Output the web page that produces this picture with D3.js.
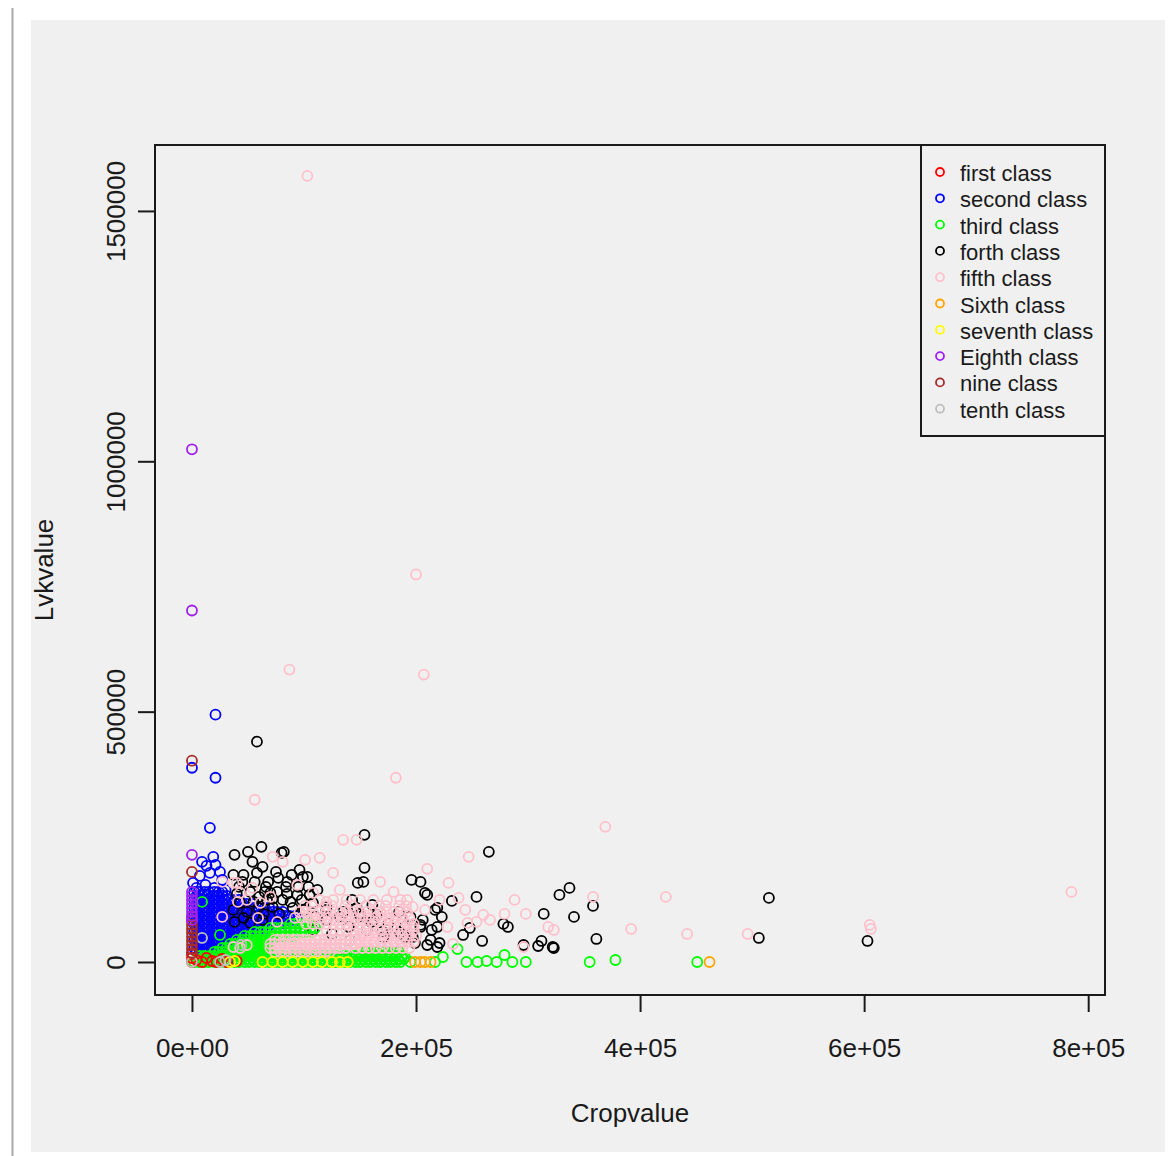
<!DOCTYPE html>
<html>
<head>
<meta charset="utf-8">
<script src="https://cdn.jsdelivr.net/npm/d3@7"></script>
<style>
body { margin: 0; background: #fff; }
text { font-family: "Liberation Sans", Arial, sans-serif; fill: #1a1a1a; }
</style>
</head>
<body>
<script>
// all point values below are in thousands: [Cropvalue, Lvkvalue]
var K = 1000;

var xTicks = [0, 200000, 400000, 600000, 800000];
var xTickLabels = ["0e+00", "2e+05", "4e+05", "6e+05", "8e+05"];
var yTicks = [0, 500000, 1000000, 1500000];
var yTickLabels = ["0", "500000", "1000000", "1500000"];
var xLimits = [-33000, 815000];
var yLimits = [-65900, 1631700];

var classNames = ["first class", "second class", "third class", "forth class", "fifth class",
                  "Sixth class", "seventh class", "Eighth class", "nine class", "tenth class"];
var classColors = ["#ff0000", "#0000ff", "#00ff00", "#000000", "#ffc0cb",
                   "#ffa500", "#ffff00", "#a020f0", "#a52a2a", "#bebebe"];

// first class (red)
var firstClass = [[0,0],[0,8],[0,16],[4,4],[9,0],[13,8],[18,2],[22,0],[27,6],[31,0],[40,2]];

// second class (blue) - single points and dense rows [y, [x...]]
var secondClass = [[0,388],[21,494],[21,368],[16,268],[9,200],[19,210],[13,192],[25,180],[16,178],
  [21,194],[7,172],[1,158],[12,154],[27,164],[20,148],[30,144],[4,148]];
var secondClassRows = [
  [140, [2,6,11,15,20,24,27]],
  [132, [4,9,13,18,22,27,31]],
  [124, [2,6,11,15,20,24,29,33,38,42]],
  [116, [4,9,13,18,22,27,31,36,40,45,49,54]],
  [108, [2,6,11,15,20,24,29,33,38,42,47,51,56,60,65,69]],
  [100, [4,9,13,18,22,27,31,36,40,45,49,54,58,63,67,72,76,81]],
  [92,  [2,6,11,15,20,24,29,33,38,42,47,51,56,60,65,69,74,78,83,87,92]],
  [84,  [4,9,13,18,22,27,31,36,40,45,49,54,58,63,67,72,76,81,85,90,94]],
  [76,  [2,6,11,15,20,24,29,33,38,42,47,51,56,60,65,69,74,78,83]],
  [68,  [4,9,13,18,22,27,31,36,40,45,49,54,58,63,67]],
  [60,  [2,6,11,15,20,24,29,33,38,42,47,51,56]],
  [52,  [4,9,13,18,22,27,31,36,40,45]],
  [44,  [2,6,11,15,20,24,29,33,38]],
  [36,  [4,9,13,18,22,27,31]],
  [28,  [2,6,11,15,20,24]],
  [20,  [4,9,13,18]]
];

// third class (green)
var thirdClass = [[9,120],[25,54],[36,28],[190,10],[195,0],[217,0],[224,10],[237,26],[245,0],[255,0],
  [263,2],[272,0],[279,14],[286,0],[298,0],[355,0],[378,4],[451,0]];
var thirdClassRows = [
  [76, [88,92,97,101,105]],
  [68, [70,74,79,83,88,92,97,101,106,110]],
  [60, [56,61,65,70,74,79,83,88,92,97,101,106]],
  [52, [47,52,56,61,65,70,74,79,83,88,92]],
  [44, [40,45,49,54,58,63,67,72]],
  [36, [34,38,43,47,52,56,61,65,70]],
  [28, [27,31,36,40,45,49,54,58,63,67,70]],
  [20, [20,24,29,33,38,42,47,51,56,60,65,69,150,155,160,165,170,175,180,185]],
  [12, [7,11,16,20,25,29,34,38,43,47,52,56,61,65,70,74,79,83,88,92,97,101,106,110,115,119,124,128,
        133,137,142,146,151,155,160,164,169,173,178,182,187]],
  [6,  [4,9,13,18,22,27,31,36,40,45,49,54,58,63,67,72,76,81,85,90,94,99,103,108,112,117,121,126,
        130,135,139,144,148,153,157,162,166,171,175,180,184,189]],
  [0,  [2,6,11,15,20,24,29,33,38,42,47,51,56,60,65,69,74,78,83,87,92,96,101,105,110,114,119,123,
        128,132,137,141,146,150,155,159,164,168,173,177,182,186]]
];

// forth class (black)
var forthClass = [[58,440],[154,254],[265,220],[337,148],[328,134],[358,112],[341,90],[323,28],[361,46],
  [515,128],[506,48],[603,42],[38,214],[50,220],[62,230],[54,200],[80,218],[82,220],[37,174],[46,174],
  [58,178],[68,160],[77,168],[89,174],[99,170],[104,150],[112,144],[154,188],[148,158],[153,160],
  [196,164],[204,160],[208,138],[217,104],[143,124],[147,108],[150,90],[70,138],[67,124],[43,118],
  [37,104],[49,100],[59,108],[72,110],[38,80],[63,84],[81,124],[94,134],[90,108],[108,118],[120,104],
  [132,90],[162,84],[174,64],[186,58],[197,50],[206,84],[210,34],[221,38],[219,70],[161,114],[165,94],
  [156,64],[171,50],[195,90],[204,70],[213,44],[219,30],[141,44],[120,84],[108,64],[96,184],[103,170],
  [210,134],[254,130],[232,122],[219,108],[223,90],[314,96],[278,76],[282,70],[204,74],[214,64],
  [190,50],[199,38],[242,54],[248,68],[259,42],[296,34],[309,32],[312,42],[322,30],
  [42,150],[52,140],[60,130],[66,150],[76,140],[84,150],[40,136],[56,160],[72,126],[88,120],[78,96],
  [64,96],[46,88],[52,78],[120,110],[135,100],[150,96],[160,80],[175,76],[185,100],[140,70],[125,56],
  [170,60],[190,70],[110,90],[100,104],[45,160],[63,190],[75,180],[85,160],[95,150],[55,120],[65,140],
  [85,136],[98,124],[105,134]];

// fifth class (pink)
var fifthClass = [[103,1570],[200,774],[207,574],[87,584],[56,324],[182,368],[369,270],[785,140],
  [605,74],[606,66],[496,56],[442,56],[423,130],[392,66],[358,130],[323,64],[247,210],[210,186],
  [229,158],[192,124],[221,124],[238,128],[288,124],[208,104],[244,104],[260,94],[266,84],[279,96],
  [298,96],[254,80],[318,70],[233,36],[296,30],[197,70],[228,70],[246,78],[135,244],[147,244],
  [72,210],[81,200],[101,204],[114,208],[126,178],[168,160],[27,160],[37,158],[43,138],[54,148],
  [41,120],[49,124],[59,88],[76,80],[27,90],[37,30],[43,28],[94,154],[108,138],[132,144],[120,120],
  [180,140],[197,110],[61,118],[70,130],[49,34],[40,158]];
var fifthClassRows = [
  [124, [114,126,138,150,162,174,186]],
  [112, [101,107,119,125,137,143,155,167,173,185,191]],
  [100, [96,102,108,114,120,126,132,138,144,150,156,162,168,174,180,186,192]],
  [88,  [92,98,104,110,116,122,128,134,140,146,152,158,164,170,176,182,188,194]],
  [76,  [102,108,114,120,126,132,138,144,150,156,162,168,174,180,186,192,198]],
  [64,  [120,126,132,138,144,150,156,162,168,174,180,186,192,198]],
  [52,  [146,152,158,164,170,176,182,188,194,200]],
  [44,  [74,78,83,87,92,96,101,105,110,114,119,123,128,132,137,141,146]],
  [40,  [150,156,162,168,174,180,186,192,198]],
  [36,  [70,74,79,83,88,92,97,101,106,110,115,119,124,128,133,137,142,146]],
  [28,  [70,74,78,83,87,92,96,101,105,110,114,119,123,128,132,137,146,152,158,164,170,176,182,188,194]],
  [20,  [74,79,83,88,92,97,101,106,110,115,119,123]]
];

var sixthClass = [[199,0],[204,0],[208,0],[213,0],[462,0]];
var seventhClass = [[34,0],[38,2],[63,0],[72,0],[81,0],[90,0],[99,0],[108,0],[116,0],[125,0],[132,0],[139,0]];
var eighthClass = [[0,1024],[0,702],[0,214],[0,140],[0,132],[0,124],[0,116],[0,108],[0,100],[0,92],[0,84]];
var nineClass = [[0,402],[0,180],[0,90],[0,82],[0,74],[0,66],[0,58],[0,50],[0,42],[0,34],[0,26],[0,18]];
var tenthClass = [[0,0],[25,0],[9,48],[30,4],[44,34]];

// turn [y, [x...]] rows into points
function fromRows(rows) {
  return rows.flatMap(function(r) { return r[1].map(function(x) { return [x, r[0]]; }); });
}

var classPoints = [
  firstClass,
  secondClass.concat(fromRows(secondClassRows)),
  thirdClass.concat(fromRows(thirdClassRows)),
  forthClass,
  fifthClass.concat(fromRows(fifthClassRows)),
  sixthClass, seventhClass, eighthClass, nineClass, tenthClass
];
// order the classes are plotted in
var drawOrder = [1, 3, 2, 4, 0, 6, 5, 9, 8, 7];

var width = 1176, height = 1156;
var box = {left: 155, right: 1105, top: 145, bottom: 995};

var svg = d3.select("body").append("svg")
    .attr("width", width)
    .attr("height", height);

// window frame
svg.append("line")
    .attr("x1", 12.5).attr("x2", 12.5).attr("y1", 8).attr("y2", height)
    .attr("stroke", "#a9a9a9").attr("stroke-width", 2);
svg.append("rect")
    .attr("x", 31).attr("y", 20).attr("width", 1134).attr("height", 1132)
    .attr("fill", "#f0f0f0");

var x = d3.scaleLinear().domain(xLimits).range([box.left, box.right]);
var y = d3.scaleLinear().domain(yLimits).range([box.bottom, box.top]);

// points
var plot = svg.append("g");
drawOrder.forEach(function(c) {
  plot.selectAll(".p" + c)
    .data(classPoints[c])
    .enter().append("circle")
    .attr("class", "p" + c)
    .attr("cx", function(d) { return x(d[0] * K); })
    .attr("cy", function(d) { return y(d[1] * K); })
    .attr("r", 5)
    .attr("fill", "none")
    .attr("stroke", classColors[c])
    .attr("stroke-width", 1.8);
});

// x axis
var xAxis = svg.append("g")
    .attr("transform", "translate(0," + box.bottom + ")")
    .call(d3.axisBottom(x).tickValues(xTicks).tickSize(17)
      .tickFormat(function(d, i) { return xTickLabels[i]; }));
xAxis.select(".domain").remove();
xAxis.selectAll("line").attr("stroke", "#1a1a1a").attr("stroke-width", 2);
xAxis.selectAll("text")
    .attr("y", 62).attr("dy", 0)
    .attr("font-size", "26px")
    .attr("font-family", "Liberation Sans, Arial, sans-serif")
    .attr("fill", "#1a1a1a");

// y axis
var yAxis = svg.append("g")
    .attr("transform", "translate(" + box.left + ",0)")
    .call(d3.axisLeft(y).tickValues(yTicks).tickSize(17)
      .tickFormat(function(d, i) { return yTickLabels[i]; }));
yAxis.select(".domain").remove();
yAxis.selectAll("line").attr("stroke", "#1a1a1a").attr("stroke-width", 2);
yAxis.selectAll("text")
    .attr("x", 0).attr("y", 0).attr("dy", 0)
    .attr("text-anchor", "middle")
    .attr("transform", "translate(-30,0) rotate(-90)")
    .attr("font-size", "26px")
    .attr("font-family", "Liberation Sans, Arial, sans-serif")
    .attr("fill", "#1a1a1a");

// plot box
svg.append("rect")
    .attr("x", box.left).attr("y", box.top)
    .attr("width", box.right - box.left).attr("height", box.bottom - box.top)
    .attr("fill", "none").attr("stroke", "#1a1a1a").attr("stroke-width", 2);

// axis titles
svg.append("text")
    .attr("x", (box.left + box.right) / 2).attr("y", 1122)
    .attr("text-anchor", "middle").attr("font-size", "26px")
    .text("Cropvalue");
svg.append("text")
    .attr("transform", "translate(53," + (box.top + box.bottom) / 2 + ") rotate(-90)")
    .attr("text-anchor", "middle").attr("font-size", "26px")
    .text("Lvkvalue");

// legend
var legend = svg.append("g");
legend.append("rect")
    .attr("x", 921).attr("y", box.top).attr("width", box.right - 921).attr("height", 291)
    .attr("fill", "#f0f0f0").attr("stroke", "#1a1a1a").attr("stroke-width", 2);
var item = legend.selectAll(".item")
    .data(classNames)
    .enter().append("g")
    .attr("class", "item")
    .attr("transform", function(d, i) { return "translate(0," + (172 + i * 26.3) + ")"; });
item.append("circle")
    .attr("cx", 940).attr("cy", 0).attr("r", 4)
    .attr("fill", "none").attr("stroke-width", 1.8)
    .attr("stroke", function(d, i) { return classColors[i]; });
item.append("text")
    .attr("x", 960).attr("y", 9)
    .attr("font-size", "22px")
    .text(function(d) { return d; });
</script>
</body>
</html>
